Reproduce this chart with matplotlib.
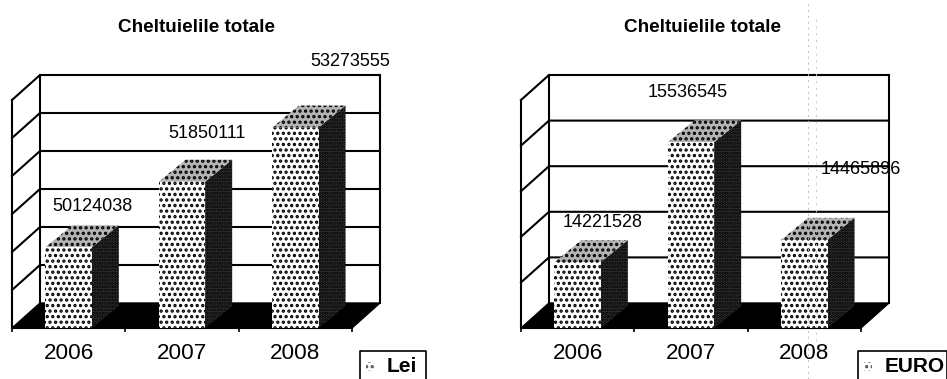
import matplotlib
matplotlib.use("Agg")
from matplotlib import pyplot as plt
from matplotlib.patches import Polygon, Rectangle
import numpy as np

years = ["2006", "2007", "2008"]
title = "Cheltuielile totale"

lei_values = [50124038, 51850111, 53273555]
lei_min = 48000000
lei_max = 54000000
lei_step = 1000000

euro_values = [14221528, 15536545, 14465896]
euro_min = 13500000
euro_max = 16000000
euro_step = 500000

W, H = 947, 379
PLANE_BOTTOM = 328
PLANE_TOP = 100
DEPTH_X, DEPTH_Y = 28, 25
BAR_W = 0.41

plt.rcParams['font.family'] = ['Liberation Sans', 'DejaVu Sans']
plt.rcParams['hatch.linewidth'] = 1.6


def draw_chart(fig, x0, x1, values, vmin, vmax, step, label_offsets):
    ax = fig.add_axes([x0 / W, 1 - PLANE_BOTTOM / H, (x1 - x0) / W, (PLANE_BOTTOM - PLANE_TOP) / H])
    ax.patch.set_alpha(0)
    ax.set_xlim(0, 3)
    ax.set_ylim(vmin, vmax)
    dx = DEPTH_X * 3.0 / (x1 - x0)
    dy = DEPTH_Y * (vmax - vmin) / (PLANE_BOTTOM - PLANE_TOP)

    for s in ['top', 'right']:
        ax.spines[s].set_visible(False)
    for s in ['left', 'bottom']:
        ax.spines[s].set_linewidth(1.5)
    ax.set_yticks([])
    ax.set_xticks([0, 1, 2, 3])
    ax.set_xticklabels([])
    ax.tick_params(axis='x', which='major', length=3, width=1.2)
    ax.set_xticks([0.5, 1.5, 2.5], minor=True)
    ax.set_xticklabels(years, minor=True, fontsize=16.2)
    ax.tick_params(axis='x', which='minor', length=0, pad=11)

    # walls and grid
    levels = np.arange(vmin, vmax + step / 2, step)
    for v in levels[1:]:
        ax.plot([0, dx, 3 + dx], [v, v + dy, v + dy], color='black', lw=1.5, clip_on=False, zorder=1)
    ax.plot([dx, dx], [vmin + dy, vmax + dy], color='black', lw=1.5, clip_on=False, zorder=1)
    ax.plot([3 + dx, 3 + dx], [vmin + dy, vmax + dy], color='black', lw=1.5, clip_on=False, zorder=1)

    # floor
    ax.add_patch(Polygon([(0, vmin), (dx, vmin + dy), (3 + dx, vmin + dy), (3, vmin)],
                         facecolor='black', edgecolor='black', clip_on=False, zorder=2))

    for i, v in enumerate(values):
        left = i + 0.5 - BAR_W / 2
        right = i + 0.5 + BAR_W / 2
        bx = dx * 0.96
        by = dy * 0.88
        ax.add_patch(Polygon([(right, vmin), (right, v), (right + bx, v + by), (right + bx, vmin + by)],
                             facecolor='#333333', edgecolor='black', hatch='.....', lw=0,
                             clip_on=False, zorder=3))
        ax.add_patch(Polygon([(left, v), (left + bx, v + by), (right + bx, v + by), (right, v)],
                             facecolor='#b4b4b4', edgecolor='black', hatch='...', lw=0,
                             clip_on=False, zorder=3))
        ax.add_patch(Rectangle((left, vmin), right - left, v - vmin,
                               facecolor='white', edgecolor='black', hatch='...', lw=0,
                               clip_on=False, zorder=4))
        ax.annotate(str(v), (i + 0.5, v), xytext=label_offsets[i], textcoords='offset pixels',
                    ha='center', va='center', fontsize=13, zorder=6, annotation_clip=False)
    return ax


def draw_legend(fig, x0, x1, text, text_x):
    ax = fig.add_axes([0, 0, 1, 1])
    ax.patch.set_alpha(0)
    ax.set_xlim(0, W)
    ax.set_ylim(H, 0)
    ax.axis('off')
    ax.plot([x0, x0, x1, x1], [H, 351, 351, H], color='black', lw=1.2, clip_on=False)
    ax.add_patch(Rectangle((x0 + 6, 362), 8, 9, facecolor='white', edgecolor='#555555', hatch='...', lw=0))
    ax.text(text_x, 366.5, text, fontsize=15, fontweight='bold', ha='left', va='center')


fig = plt.figure(figsize=(W / 100, H / 100), dpi=100)

draw_chart(fig, 12, 352, lei_values, lei_min, lei_max, lei_step,
           [(24, 41), (25, 48), (55, 66)])
draw_chart(fig, 521, 861, euro_values, euro_min, euro_max, euro_step,
           [(25, 40), (-3, 50), (56, 70)])

fig.text(196 / W, 1 - 27 / H, title, ha='center', va='center', fontsize=13.6, fontweight='bold')
fig.text(702 / W, 1 - 27 / H, title, ha='center', va='center', fontsize=13.6, fontweight='bold')

draw_legend(fig, 360, 426, "Lei", 387)
draw_legend(fig, 858, 947, "EURO", 885)

# faint scanner streak on the right chart
fig.add_artist(plt.Line2D([808 / W, 808 / W], [0, 1], color='#bbbbbb', lw=0.7, ls=(0, (2, 4))))
fig.add_artist(plt.Line2D([816 / W, 816 / W], [0.1, 0.95], color='#c8c8c8', lw=0.7, ls=(0, (2, 5))))

fig.savefig("out.png", dpi=100)
